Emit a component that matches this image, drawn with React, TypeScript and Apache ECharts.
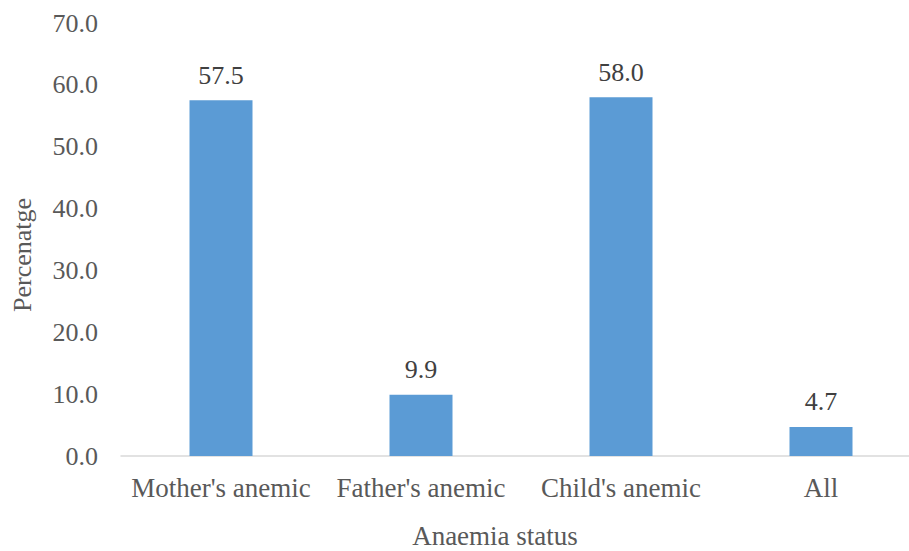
import React, { useEffect, useRef } from "react";
import * as echarts from "echarts";

const categories = ["Mother's anemic", "Father's anemic", "Child's anemic", "All"];
const values = [57.5, 9.9, 58.0, 4.7];
const yTicks = { min: 0, max: 70, interval: 10 };
const xTitle = "Anaemia status";
const yTitle = "Percenatge";

export default function App() {
  const ref = useRef<HTMLDivElement>(null);
  useEffect(() => {
    if (!ref.current) return;
    const chart = echarts.init(ref.current, null, { renderer: "svg" });
    const font = "Times New Roman, Liberation Serif, DejaVu Serif, serif";
    chart.setOption({
      animation: false,
      backgroundColor: "#ffffff",
      grid: { left: 121, top: 23, width: 800, height: 433, containLabel: false },
      xAxis: {
        type: "category",
        data: categories,
        axisLine: { show: true, lineStyle: { color: "#D9D9D9", width: 1.5 } },
        axisTick: { show: false },
        axisLabel: { color: "#595959", fontFamily: font, fontSize: 27, margin: 18, interval: 0 },
        splitLine: { show: false },
      },
      yAxis: {
        type: "value",
        min: yTicks.min,
        max: yTicks.max,
        interval: yTicks.interval,
        axisLine: { show: false },
        axisTick: { show: false },
        splitLine: { show: false },
        axisLabel: {
          color: "#595959",
          fontFamily: font,
          fontSize: 26,
          margin: 23,
          formatter: (v: number) => v.toFixed(1),
        },
      },
      graphic: [
        {
          type: "text",
          x: 495,
          y: 536,
          style: {
            text: xTitle,
            fill: "#595959",
            fontFamily: font,
            fontSize: 27,
            textAlign: "center",
            textVerticalAlign: "middle",
          },
        },
        {
          type: "text",
          x: 22,
          y: 255,
          rotation: Math.PI / 2,
          style: {
            text: yTitle,
            fill: "#595959",
            fontFamily: font,
            fontSize: 26,
            textAlign: "center",
            textVerticalAlign: "middle",
          },
        },
      ],
      series: [
        {
          type: "bar",
          data: values,
          barWidth: 63,
          itemStyle: { color: "#5B9BD5" },
          label: {
            show: true,
            position: "top",
            distance: 12,
            color: "#404040",
            fontFamily: font,
            fontSize: 26,
            formatter: (p: any) => Number(p.value).toFixed(1),
          },
        },
      ],
    });
    return () => chart.dispose();
  }, []);
  return (
    <div
      style={{
        position: "absolute",
        left: 0,
        top: 0,
        width: 909,
        height: 551,
        overflow: "hidden",
        background: "#ffffff",
      }}
    >
      <div ref={ref} style={{ width: 930, height: 551 }} />
    </div>
  );
}
